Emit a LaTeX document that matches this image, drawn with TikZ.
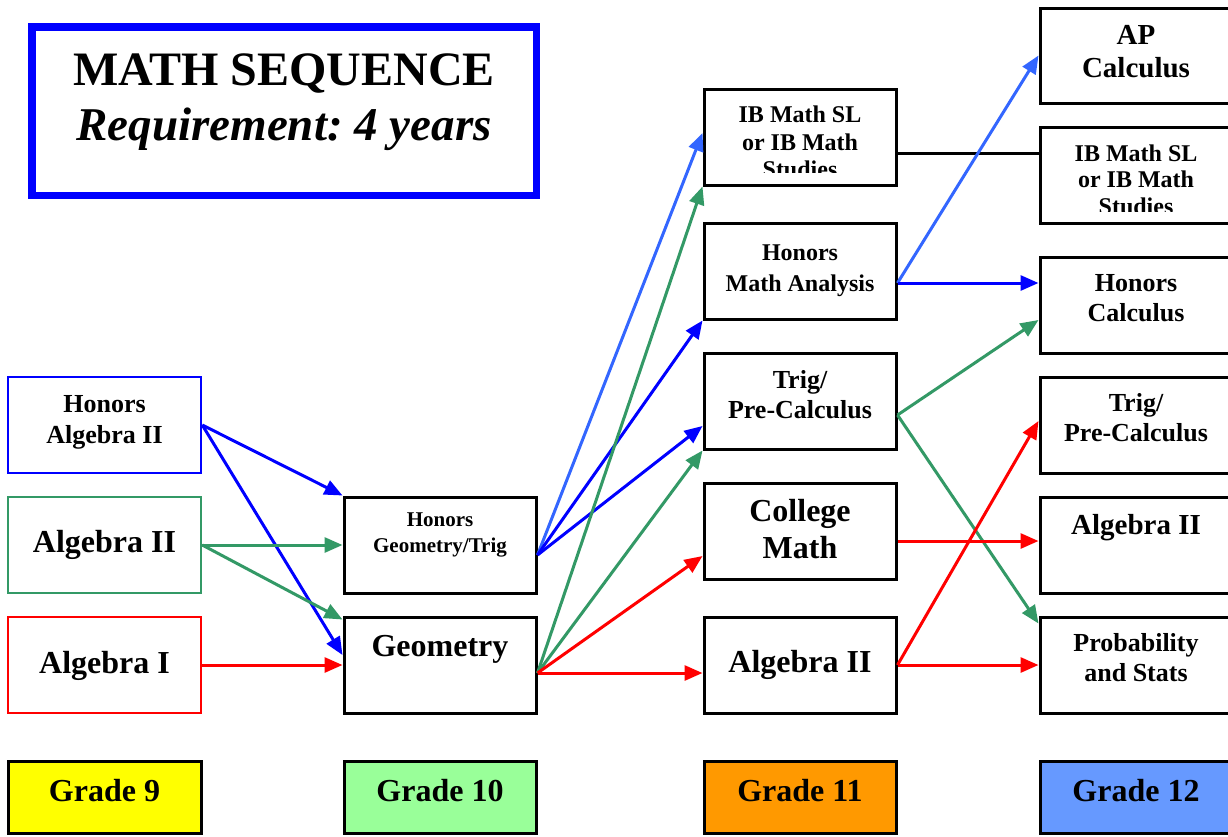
\documentclass[tikz,border=0pt]{standalone}
\usepackage{fontspec}
\setmainfont{Liberation Serif}
\usetikzlibrary{arrows.meta}
\frenchspacing
\definecolor{cblue}{HTML}{0000FF}
\definecolor{lblue}{HTML}{3366FF}
\definecolor{cgreen}{HTML}{339966}
\definecolor{cred}{HTML}{FF0000}
\definecolor{gyellow}{HTML}{FFFF00}
\definecolor{ggreen}{HTML}{99FF99}
\definecolor{gorange}{HTML}{FF9900}
\definecolor{gblue}{HTML}{6699FF}
\newcommand\fsz[2]{\fontsize{#1}{#2}\selectfont\bfseries}
\begin{document}
\begin{tikzpicture}[x=1pt,y=-1pt,
  box/.style={draw=black, line width=3pt, minimum width=192pt, minimum height=96pt, inner sep=0pt},
  gbox/.style={draw=black, line width=3pt, minimum width=193pt, minimum height=72pt, inner sep=0pt},
  txt/.style={align=center, inner sep=0pt, text=black},
  arr/.style={line width=3pt, -{Triangle[length=18pt,width=15pt]}},
  plain/.style={line width=3pt}
]
\useasboundingbox (0,0) rectangle (1228,836);
\fill[white] (0,0) rectangle (1228,836);

% title
\node[draw=cblue, line width=7.5pt, minimum width=504.5pt, minimum height=168.5pt, inner sep=0pt] (title) at (284.3,111.3) {};
\node[txt, anchor=base, font=\fsz{48}{54}] (t1) at (284,85) {MATH SEQUENCE};
\node[txt, anchor=base, font=\fsz{47}{54}\itshape] (t2) at (284,140) {Requirement: 4 years};

% grade 9
\node[box, draw=cblue, line width=2.5pt, minimum width=193pt] (ha2) at (104.5,425) {};
\node[box, draw=cgreen, line width=2.5pt, minimum width=193pt] (a2g9) at (104.5,545) {};
\node[box, draw=cred, line width=2.5pt, minimum width=193pt] (a1) at (104.5,665) {};
\node[txt, font=\fsz{26}{31}] (ha2t) at (104.5,422) {Honors\\Algebra II};
\node[txt, anchor=base, font=\fsz{32}{36}] (a2g9t) at (104.5,552.7) {Algebra II};
\node[txt, anchor=base, font=\fsz{32}{36}] (a1t) at (104.5,673.3) {Algebra I};

% grade 10
\node[box] (hgt) at (440,545) {};
\node[box] (geo) at (440,665) {};
\node[txt, font=\fsz{21}{26}] (hgtt) at (440,534.8) {Honors\\Geometry/Trig};
\node[txt, anchor=base, font=\fsz{32}{36}] (geot) at (440,656.7) {Geometry};

% grade 11
\node[box] (ib11) at (800,137) {};
\node[box] (hma) at (800,271) {};
\node[box] (tpc11) at (800,401) {};
\node[box] (cm) at (800,531) {};
\node[box] (a2g11) at (800,665) {};
\begin{scope}
\clip (704,89) rectangle (896,172);
\node[txt, font=\fsz{24}{27.6}] (ib11t) at (800,142) {IB Math SL\\or IB Math\\Studies};
\end{scope}
\node[txt, font=\fsz{24}{31}] (hmat) at (800,270.6) {Honors\\Math Analysis};
\node[txt, font=\fsz{26}{30}] (tpc11t) at (800,394.4) {Trig/\\Pre-Calculus};
\node[txt, font=\fsz{32}{37}] (cmt) at (800,529.4) {College\\Math};
\node[txt, anchor=base, font=\fsz{32}{36}] (a2g11t) at (800,672.3) {Algebra II};

% grade 12
\node[box, minimum height=95pt] (ap) at (1136,55.5) {};
\node[box] (ib12) at (1136,175) {};
\node[box] (hc) at (1136,305) {};
\node[box] (tpc12) at (1136,425) {};
\node[box] (a2g12) at (1136,545) {};
\node[box] (ps) at (1136,665) {};
\node[txt, font=\fsz{29}{33}] (apt) at (1136,52) {AP\\Calculus};
\begin{scope}
\clip (1040,127) rectangle (1232,211);
\node[txt, font=\fsz{24}{26.5}] (ib12t) at (1136,179.5) {IB Math SL\\or IB Math\\Studies};
\end{scope}
\node[txt, font=\fsz{26}{30}] (hct) at (1136,297.8) {Honors\\Calculus};
\node[txt, font=\fsz{26}{30}] (tpc12t) at (1136,417.8) {Trig/\\Pre-Calculus};
\node[txt, anchor=base, font=\fsz{29}{33}] (a2g12t) at (1136,534) {Algebra II};
\node[txt, font=\fsz{26}{30}] (pst) at (1136,657.8) {Probability\\and Stats};

% grade labels
\node[gbox, fill=gyellow] (g9) at (104.5,797) {};
\node[gbox, fill=ggreen, minimum width=192pt] (g10) at (440,797) {};
\node[gbox, fill=gorange, minimum width=192pt] (g11) at (800,797) {};
\node[gbox, fill=gblue, minimum width=192pt] (g12) at (1136,797) {};
\node[txt, anchor=base, font=\fsz{32}{36}] (g9t) at (104.5,801.7) {Grade 9};
\node[txt, anchor=base, font=\fsz{32}{36}] (g10t) at (440,801.7) {Grade 10};
\node[txt, anchor=base, font=\fsz{32}{36}] (g11t) at (800,801.7) {Grade 11};
\node[txt, anchor=base, font=\fsz{32}{36}] (g12t) at (1136,801.7) {Grade 12};

% connectors grade 9 -> 10
\draw[arr, cblue] (ha2.east) -- (hgt.north west);
\draw[arr, cblue] (ha2.east) -- ([yshift=10pt]geo.west);
\draw[arr, cgreen] (a2g9.east) -- (hgt.west);
\draw[arr, cgreen] (a2g9.east) -- ([yshift=-4pt]geo.north west);
\draw[arr, cred] (a1.east) -- (geo.west);

% grade 10 -> 11
\draw[arr, lblue] ([yshift=-10pt]hgt.east) -- ([yshift=4pt]ib11.west);
\draw[arr, cblue] ([yshift=-10pt]hgt.east) -- (hma.south west);
\draw[arr, cblue] ([yshift=-10pt]hgt.east) -- ([yshift=-25pt]tpc11.west);
\draw[arr, cgreen] ([yshift=-8pt]geo.east) -- (ib11.south west);
\draw[arr, cgreen] ([yshift=-8pt]geo.east) -- (tpc11.south west);
\draw[arr, cred] ([yshift=-8pt]geo.east) -- ([yshift=-25pt]cm.west);
\draw[arr, cred] ([yshift=-8pt]geo.east) -- ([yshift=-8pt]a2g11.west);

% grade 11 -> 12
\draw[plain, black] ([yshift=-16pt]ib11.east) -- ([yshift=22pt]ib12.west);
\draw[arr, lblue] ([yshift=-12pt]hma.east) -- (ap.west);
\draw[arr, cblue] ([yshift=-12pt]hma.east) -- ([yshift=22pt]hc.west);
\draw[arr, cgreen] ([yshift=-14pt]tpc11.east) -- ([yshift=-15pt]hc.west);
\draw[arr, cgreen] ([yshift=-14pt]tpc11.east) -- ([yshift=-8pt]ps.north west);
\draw[arr, cred] ([yshift=-10pt]cm.east) -- ([yshift=4pt]a2g12.west);
\draw[arr, cred] (a2g11.east) -- ([yshift=4pt]tpc12.west);
\draw[arr, cred] (a2g11.east) -- (ps.west);
\end{tikzpicture}
\end{document}
